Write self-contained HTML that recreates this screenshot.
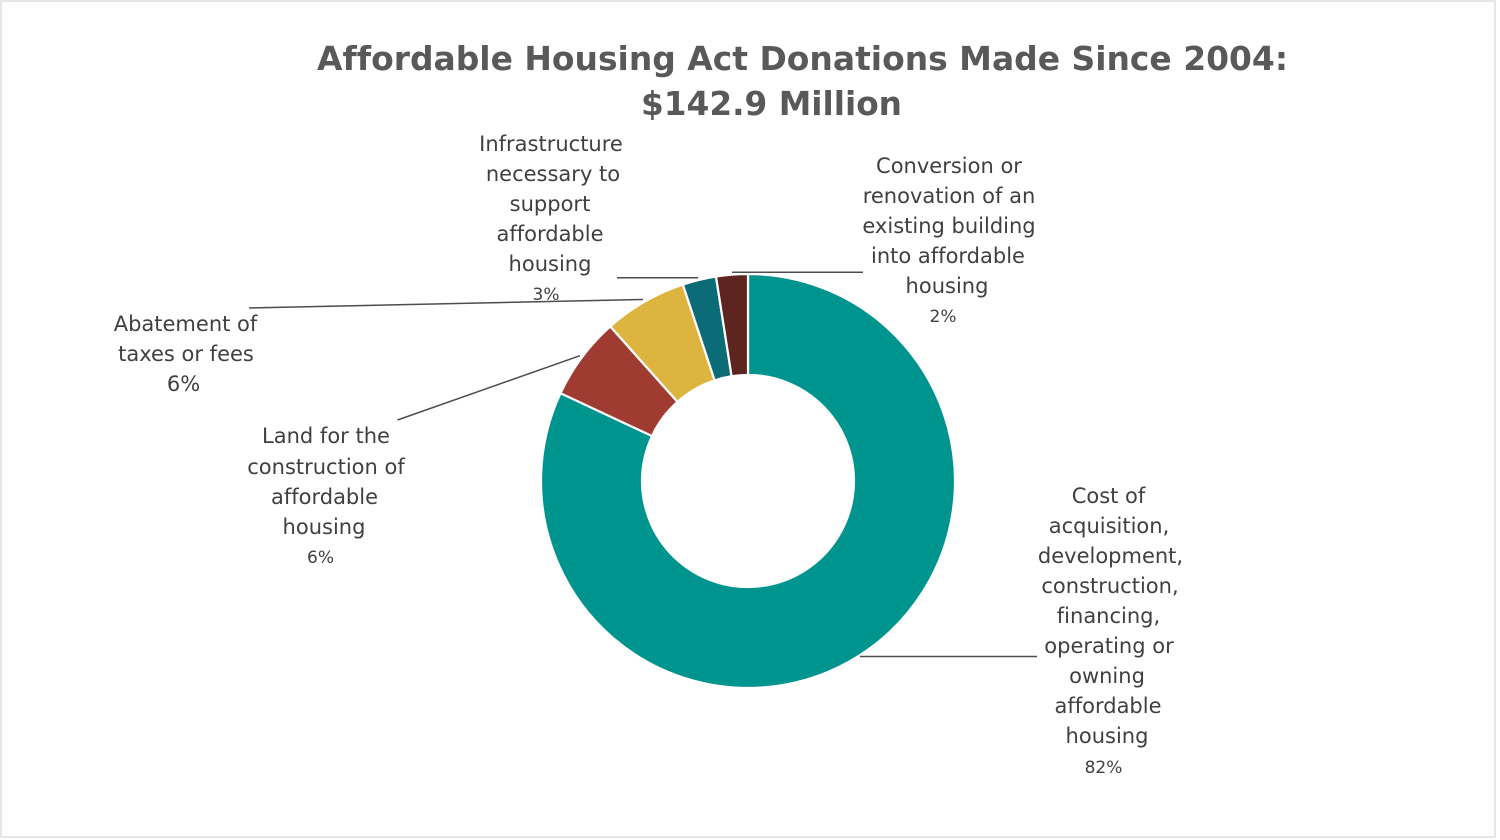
<!DOCTYPE html>
<html>
<head>
<meta charset="utf-8">
<style>
  html, body { margin: 0; padding: 0; background: #ffffff; }
  svg { display: block; }
  text { font-variant-ligatures: none; font-feature-settings: "liga" 0, "clig" 0, "dlig" 0; }
  .t { font-family: "DejaVu Sans", "Liberation Sans", sans-serif; font-weight: bold; font-size: 33px; fill: #595959; }
  .l { font-family: "DejaVu Sans", "Liberation Sans", sans-serif; font-size: 21px; fill: #404040; text-anchor: middle; }
  .p { font-family: "DejaVu Sans", "Liberation Sans", sans-serif; font-size: 17px; fill: #404040; text-anchor: middle; }
  .ld { stroke: #4d4d4d; stroke-width: 1.5; fill: none; }
</style>
</head>
<body>
<svg width="1500" height="840" viewBox="0 0 1500 840" xmlns="http://www.w3.org/2000/svg">
  <rect x="0" y="0" width="1500" height="840" fill="#ffffff"/>
  <rect x="1" y="1" width="1494" height="836" fill="none" stroke="#d9d9d9" stroke-width="1.3"/>

  <!-- Title -->
  <text class="t" x="317" y="70" textLength="971" lengthAdjust="spacingAndGlyphs">Affordable Housing Act Donations Made Since 2004:</text>
  <text class="t" x="641" y="115" textLength="261" lengthAdjust="spacingAndGlyphs">$142.9 Million</text>

  <!-- Donut -->
  <g stroke="#ffffff" stroke-width="2.2" stroke-linejoin="miter">
    <path fill="#00948f" d="M748,274 A207,207 0 1 1 560.54,393.19 L652.01,436.03 A106,106 0 1 0 748,375 Z"/>
    <path fill="#a03b32" d="M560.54,393.19 A207,207 0 0 1 610.30,326.45 L677.49,401.86 A106,106 0 0 0 652.01,436.03 Z"/>
    <path fill="#deb441" d="M610.30,326.45 A207,207 0 0 1 682.84,284.52 L714.63,380.38 A106,106 0 0 0 677.49,401.86 Z"/>
    <path fill="#0b6b76" d="M682.84,284.52 A207,207 0 0 1 715.97,276.48 L731.60,376.27 A106,106 0 0 0 714.63,380.38 Z"/>
    <path fill="#5e2420" d="M715.97,276.48 A207,207 0 0 1 748,274 L748,375 A106,106 0 0 0 731.60,376.27 Z"/>
  </g>

  <!-- Leader lines -->
  <line class="ld" x1="732" y1="272.3" x2="863" y2="272.3"/>
  <line class="ld" x1="617" y1="277.7" x2="698" y2="277.7"/>
  <line class="ld" x1="249" y1="308" x2="643" y2="299.5"/>
  <line class="ld" x1="397.5" y1="420" x2="580" y2="355.7"/>
  <line class="ld" x1="860" y1="656.5" x2="1037" y2="656.5"/>

  <!-- Conversion label -->
  <text class="l" x="949" y="173">Conversion or</text>
  <text class="l" x="949" y="203">renovation of an</text>
  <text class="l" x="949" y="233">existing building</text>
  <text class="l" x="948" y="263">into affordable</text>
  <text class="l" x="947" y="293">housing</text>
  <text class="p" x="943" y="322">2%</text>

  <!-- Infrastructure label -->
  <text class="l" x="551" y="151">Infrastructure</text>
  <text class="l" x="553" y="181">necessary to</text>
  <text class="l" x="550" y="211">support</text>
  <text class="l" x="550" y="241">affordable</text>
  <text class="l" x="550" y="271">housing</text>
  <text class="p" x="546" y="300">3%</text>

  <!-- Abatement label -->
  <text class="l" x="185.5" y="331">Abatement of</text>
  <text class="l" x="186" y="361">taxes or fees</text>
  <text class="l" x="183.5" y="391">6%</text>

  <!-- Land label -->
  <text class="l" x="326" y="443">Land for the</text>
  <text class="l" x="326" y="474">construction of</text>
  <text class="l" x="324.5" y="504">affordable</text>
  <text class="l" x="324" y="534">housing</text>
  <text class="p" x="320.5" y="563">6%</text>

  <!-- Cost label -->
  <text class="l" x="1108.5" y="503">Cost of</text>
  <text class="l" x="1109" y="533">acquisition,</text>
  <text class="l" x="1110.5" y="563">development,</text>
  <text class="l" x="1110" y="593">construction,</text>
  <text class="l" x="1108.5" y="623">financing,</text>
  <text class="l" x="1109" y="653">operating or</text>
  <text class="l" x="1107" y="683">owning</text>
  <text class="l" x="1108" y="713">affordable</text>
  <text class="l" x="1107" y="743">housing</text>
  <text class="p" x="1103.5" y="773">82%</text>
</svg>
</body>
</html>
